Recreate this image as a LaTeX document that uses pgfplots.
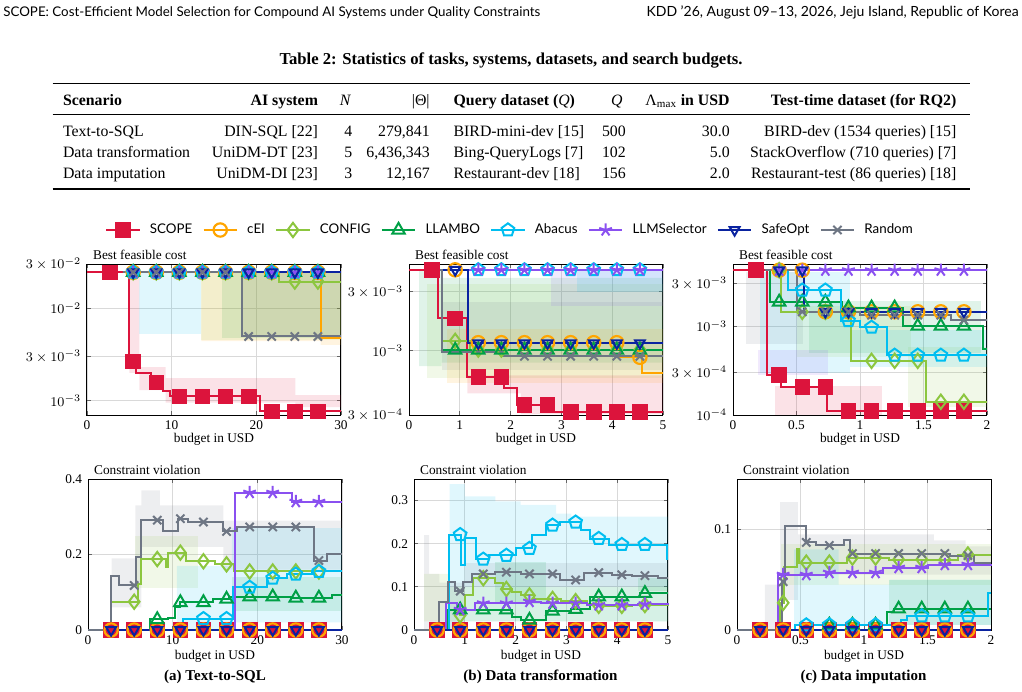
\documentclass[border=0pt]{standalone}
\usepackage{fontspec}
\setmainfont{Liberation Serif}
\newfontfamily\sansf{Lato}
\usepackage{pgfplots}
\pgfplotsset{compat=1.18}

\definecolor{cSCOPE}{RGB}{220,20,60}
\definecolor{cCEI}{RGB}{255,165,0}
\definecolor{cCONFIG}{RGB}{140,198,63}
\definecolor{cLLAMBO}{RGB}{0,160,70}
\definecolor{cABACUS}{RGB}{0,190,240}
\definecolor{cLLMSEL}{RGB}{138,80,240}
\definecolor{cSAFE}{RGB}{10,35,160}
\definecolor{cRAND}{RGB}{110,118,132}

\newcommand\tk{\fontsize{8}{9.6}\selectfont}
\newcommand\tb{\fontsize{9.5}{11.4}\selectfont}

\pgfplotsset{
  lSCOPE/.style={color=cSCOPE, line width=1.2pt, mark=square*, mark size=4.4pt, mark options={solid, fill=cSCOPE, line width=0.5pt}},
  lCEI/.style={color=cCEI, line width=1.2pt, mark=o, mark size=4pt, mark options={solid, line width=1.3pt}},
  lCONFIG/.style={color=cCONFIG, line width=1.2pt, mark=diamond, mark size=4.3pt, mark options={solid, line width=1.2pt}},
  lLLAMBO/.style={color=cLLAMBO, line width=1.2pt, mark=triangle, mark size=4.3pt, mark options={solid, line width=1.2pt}},
  lABACUS/.style={color=cABACUS, line width=1.2pt, mark=pentagon, mark size=4pt, mark options={solid, line width=1.2pt}},
  lLLMSEL/.style={color=cLLMSEL, line width=1.2pt, mark=star, mark size=4pt, mark options={solid, line width=1.2pt}},
  lSAFE/.style={color=cSAFE, line width=1.2pt, mark=triangle, mark size=3.4pt, mark options={solid, rotate=180, line width=1.2pt}},
  lRAND/.style={color=cRAND, line width=1.2pt, mark=x, mark size=3.5pt, mark options={solid, line width=1.2pt}},
  band/.style={draw=none, fill opacity=0.12, forget plot},
  panel/.style={
    scale only axis, width=152.4pt, height=90.6pt, anchor=north west, clip=false,
    xmin=0,
    grid=major, major grid style={line width=0.5pt, draw=black!15},
    axis line style={line width=0.6pt},
    tick style={black!60, line width=0.5pt}, major tick length=2.5pt,
    tick label style={font=\tk},
    label style={font=\tk},
    xlabel={budget in USD},
    title style={font=\tk, at={(axis description cs:0,1)}, anchor=base west, xshift=3.5pt, yshift=-3pt, inner sep=0pt},
    /pgf/number format/assume math mode=true,
  },
  toprow/.style={xlabel style={at={(axis description cs:0.5,0)}, anchor=base, yshift=-16.6pt, inner sep=0pt}},
  botrow/.style={xlabel style={at={(axis description cs:0.5,0)}, anchor=base, yshift=-17.4pt, inner sep=0pt}},
}

% step line through the change points, marks at the evaluation budgets
\newcommand{\curve}[3]{%
  \addplot[#1, const plot, mark=none] coordinates {#2};
  \addplot[#1, only marks] coordinates {#3};}

\begin{document}
\begin{tikzpicture}
\begin{scope}[x=0.6pt, y=-0.6pt]
  \path[use as bounding box] (0,0) rectangle (1022,691);
  % running head
  \node[anchor=base west, inner sep=0pt, font=\sansf\fontsize{8}{9.6}\selectfont] at (3,16)
    {SCOPE: Cost-Efficient Model Selection for Compound AI Systems under Quality Constraints};
  \node[anchor=base east, inner sep=0pt, font=\sansf\fontsize{8.4}{10}\selectfont] at (1019,16)
    {KDD ’26, August 09–13, 2026, Jeju Island, Republic of Korea};
  % table
  \node[anchor=base, inner sep=0pt, font=\bfseries\fontsize{10}{12}\selectfont] at (511,64)
    {Table 2: Statistics of tasks, systems, datasets, and search budgets.};
  \draw[line width=0.8pt] (52.7,83.3) -- (970,83.3);
  \draw[line width=0.45pt] (52.7,114.3) -- (970,114.3);
  \draw[line width=0.8pt] (52.7,189) -- (970,189);
  \tikzset{tw/.style={anchor=base west, inner sep=0pt, font=\tb},
           te/.style={anchor=base east, inner sep=0pt, font=\tb},
           tc/.style={anchor=base, inner sep=0pt, font=\tb}}
  \node[tw] at (62.7,105.5) {\bfseries Scenario};
  \node[te] at (318.3,105.5) {\bfseries AI system};
  \node[tc] at (345.5,105.5) {\textit{N}};
  \node[te] at (430,105.5) {|Θ|};
  \node[tw] at (453.3,105.5) {\bfseries Query dataset (\textit{\mdseries Q})};
  \node[te] at (623,105.5) {\textit{Q}};
  \node[te] at (730,105.5) {Λ\textsubscript{max} \bfseries in USD};
  \node[te] at (956.7,105.5) {\bfseries Test-time dataset (for RQ2)};
  % rows
  \node[tw] at (62.7,136) {Text-to-SQL};
  \node[te] at (318.3,136) {DIN-SQL [22]};
  \node[tc] at (348.3,136) {4};
  \node[te] at (430,136) {279,841};
  \node[tw] at (453.3,136) {BIRD-mini-dev [15]};
  \node[tw] at (601.7,136) {500};
  \node[te] at (730,136) {30.0};
  \node[te] at (956.7,136) {BIRD-dev (1534 queries) [15]};
  \node[tw] at (62.7,157.5) {Data transformation};
  \node[te] at (318.3,157.5) {UniDM-DT [23]};
  \node[tc] at (348.3,157.5) {5};
  \node[te] at (430,157.5) {6,436,343};
  \node[tw] at (453.3,157.5) {Bing-QueryLogs [7]};
  \node[tw] at (601.7,157.5) {102};
  \node[te] at (730,157.5) {5.0};
  \node[te] at (956.7,157.5) {StackOverflow (710 queries) [7]};
  \node[tw] at (62.7,178.5) {Data imputation};
  \node[te] at (318.3,178.5) {UniDM-DI [23]};
  \node[tc] at (348.3,178.5) {3};
  \node[te] at (430,178.5) {12,167};
  \node[tw] at (453.3,178.5) {Restaurant-dev [18]};
  \node[tw] at (601.7,178.5) {156};
  \node[te] at (730,178.5) {2.0};
  \node[te] at (956.7,178.5) {Restaurant-test (86 queries) [18]};
  % sub-captions
  \node[anchor=base, inner sep=0pt, font=\bfseries\fontsize{9}{11}\selectfont] at (215,680.5) {(a) Text-to-SQL};
  \node[anchor=base, inner sep=0pt, font=\bfseries\fontsize{9}{11}\selectfont] at (540.5,680.5) {(b) Data transformation};
  \node[anchor=base, inner sep=0pt, font=\bfseries\fontsize{9}{11}\selectfont] at (863.5,680.5) {(c) Data imputation};
  % panel anchors
  \coordinate (PA) at (87,264);
  \coordinate (PB) at (409,264);
  \coordinate (PC) at (733,264);
  \coordinate (QA) at (88,479);
  \coordinate (QB) at (414,479);
  \coordinate (QC) at (737,479);
  \coordinate (LEG) at (509,230);
\end{scope}

% ---------- shared legend ----------
\begin{axis}[at={(LEG)}, anchor=center, hide axis, scale only axis, width=20pt, height=10pt,
  xmin=0, xmax=1, ymin=0, ymax=1, legend columns=8,
  legend style={at={(0.5,0.5)}, anchor=center, draw=none, fill=none,
    font=\sansf\fontsize{8}{9.6}\selectfont, nodes={inner xsep=0pt},
    /tikz/every odd column/.append style={column sep=5.6pt},
    /tikz/every even column/.append style={column sep=6.2pt}},
  legend image code/.code={\draw[mark repeat=2, mark phase=2, #1] plot coordinates {(0pt,0pt) (10pt,0pt) (20pt,0pt)};}]
\addlegendimage{lSCOPE}\addlegendentry{SCOPE}
\addlegendimage{lCEI}\addlegendentry{cEI}
\addlegendimage{lCONFIG}\addlegendentry{CONFIG}
\addlegendimage{lLLAMBO}\addlegendentry{LLAMBO}
\addlegendimage{lABACUS}\addlegendentry{Abacus}
\addlegendimage{lLLMSEL}\addlegendentry{LLMSelector}
\addlegendimage{lSAFE}\addlegendentry{SafeOpt}
\addlegendimage{lRAND}\addlegendentry{Random}
\end{axis}

% ---------- (a) Text-to-SQL: best feasible cost ----------
\begin{axis}[panel, toprow, at={(PA)}, title={Best feasible cost}, xmax=30, xtick={0,10,20,30},
  ymode=log, ymin=7e-4, ymax=3e-2, ytick={1e-3,3e-3,1e-2,3e-2},
  yticklabels={$10^{-3}$,$3\times10^{-3}$,$10^{-2}$,$3\times10^{-2}$}]
\addplot[band, fill=cABACUS] coordinates {(6.2,0.0244)(13.5,0.0244)(13.5,0.0052)(6.2,0.0052)};
\addplot[band, fill=cCONFIG] coordinates {(13.5,0.0244)(30,0.0244)(30,0.0045)(13.5,0.0045)};
\addplot[band, fill=cLLAMBO] coordinates {(16,0.0244)(30,0.0244)(30,0.0048)(16,0.0048)};
\addplot[band, fill=cRAND] coordinates {(18.3,0.0244)(30,0.0244)(30,0.005)(18.3,0.005)};
\addplot[band, fill=cCEI] coordinates {(13.5,0.0244)(30,0.0244)(30,0.0040)(27.6,0.0040)(27.6,0.0044)(13.5,0.0044)};
\addplot[band, fill=cSCOPE] coordinates {(5,0.0244)(6.2,0.0244)(6.2,0.0023)(9.3,0.0023)(9.3,0.00175)(24.6,0.00175)(24.6,0.00115)(30,0.00115)(30,0.00085)(24.6,0.00085)(24.6,0.00095)(9.3,0.00095)(9.3,0.0013)(6.2,0.0013)(6.2,0.002)(5,0.002)};
\curve{lSCOPE}{(0,0.0244)(5,0.00265)(5.8,0.00199)(7.6,0.00157)(9.0,0.00126)(9.8,0.00111)(20.4,0.000767)(30,0.000767)}
  {(2.727,0.0244)(5.455,0.00265)(8.182,0.00157)(10.909,0.00111)(13.636,0.00111)(16.364,0.00111)(19.091,0.00111)(21.818,0.000767)(24.545,0.000767)(27.273,0.000767)}
\curve{lCEI}{(4.2,0.0244)(27.6,0.0047)(30,0.0047)}
  {(5.455,0.0244)(8.182,0.0244)(10.909,0.0244)(13.636,0.0244)(16.364,0.0244)(19.091,0.0244)(21.818,0.0244)(24.545,0.0244)(27.273,0.0244)}
\curve{lCONFIG}{(4.2,0.0244)(22.7,0.0194)(30,0.0194)}
  {(5.455,0.0244)(8.182,0.0244)(10.909,0.0244)(13.636,0.0244)(16.364,0.0244)(19.091,0.0244)(21.818,0.0244)(24.545,0.0194)(27.273,0.0194)}
\curve{lLLAMBO}{(4.2,0.0244)(30,0.0244)}
  {(5.455,0.0244)(8.182,0.0244)(10.909,0.0244)(13.636,0.0244)(16.364,0.0244)(19.091,0.0244)(21.818,0.0244)(24.545,0.0244)(27.273,0.0244)}
\curve{lABACUS}{(4.2,0.0244)(30,0.0244)}
  {(5.455,0.0244)(8.182,0.0244)(10.909,0.0244)(13.636,0.0244)(16.364,0.0244)(19.091,0.0244)(21.818,0.0244)(24.545,0.0244)(27.273,0.0244)}
\curve{lLLMSEL}{(4.2,0.0244)(30,0.0244)}
  {(5.455,0.0244)(8.182,0.0244)(10.909,0.0244)(13.636,0.0244)(16.364,0.0244)(19.091,0.0244)(21.818,0.0244)(24.545,0.0244)(27.273,0.0244)}
\curve{lSAFE}{(4.2,0.0244)(30,0.0244)}
  {(5.455,0.0244)(8.182,0.0244)(10.909,0.0244)(13.636,0.0244)(16.364,0.0244)(19.091,0.0244)(21.818,0.0244)(24.545,0.0244)(27.273,0.0244)}
\curve{lRAND}{(4.2,0.0244)(18.3,0.00494)(30,0.00494)}
  {(5.455,0.0244)(8.182,0.0244)(10.909,0.0244)(13.636,0.0244)(16.364,0.0244)(19.091,0.00494)(21.818,0.00494)(24.545,0.00494)(27.273,0.00494)}
\end{axis}

% ---------- (b) Data transformation: best feasible cost ----------
\begin{axis}[panel, toprow, at={(PB)}, title={Best feasible cost}, xmax=5, xtick={0,1,2,3,4,5},
  ymode=log, ymin=3e-4, ymax=5.05e-3, ytick={3e-4,1e-3,3e-3},
  yticklabels={$3\times10^{-4}$,$10^{-3}$,$3\times10^{-3}$}]
\addplot[band, fill=cLLAMBO] coordinates {(0.2,0.0045)(0.64,0.0045)(0.64,0.0039)(5,0.0039)(5,0.0008)(0.64,0.0008)(0.64,0.00075)(0.2,0.00075)};
\addplot[band, fill=cCONFIG] coordinates {(0.35,0.0035)(5,0.0035)(5,0.0006)(0.35,0.0006)};
\addplot[band, fill=cRAND] coordinates {(0.64,0.0025)(5,0.0025)(5,0.0007)(0.64,0.0007)};
\addplot[band, fill=cCEI] coordinates {(0.75,0.0015)(5,0.0015)(5,0.00055)(0.75,0.00055)};
\addplot[band, fill=cLLMSEL] coordinates {(2.8,0.0045)(5,0.0045)(5,0.0023)(2.8,0.0023)};
\addplot[band, fill=cABACUS] coordinates {(3.3,0.0045)(5,0.0045)(5,0.003)(3.3,0.003)};
\addplot[band, fill=cSCOPE] coordinates {(1.15,0.00063)(5,0.00063)(5,0.000305)(2.2,0.000305)(2.2,0.00045)(1.15,0.00045)};
\curve{lSCOPE}{(0,0.00453)(0.57,0.00183)(1.14,0.000615)(1.87,0.000494)(2.12,0.000362)(2.84,0.000319)(5,0.000319)}
  {(0.4545,0.00453)(0.9091,0.00183)(1.3636,0.000615)(1.8182,0.000615)(2.2727,0.000362)(2.7273,0.000362)(3.1818,0.000319)(3.6364,0.000319)(4.0909,0.000319)(4.5455,0.000319)}
\curve{lCEI}{(0.5,0.00453)(1.16,0.00116)(4.16,0.000883)(4.59,0.000663)(5,0.000663)}
  {(0.9091,0.00453)(1.3636,0.00116)(1.8182,0.00116)(2.2727,0.00116)(2.7273,0.00116)(3.1818,0.00116)(3.6364,0.00116)(4.0909,0.00116)(4.5455,0.000883)}
\curve{lCONFIG}{(0.5,0.00453)(0.64,0.0012)(1.2,0.00102)(5,0.00102)}
  {(0.9091,0.0012)(1.3636,0.00102)(1.8182,0.00102)(2.2727,0.00102)(2.7273,0.00102)(3.1818,0.00102)(3.6364,0.00102)(4.0909,0.00102)(4.5455,0.00102)}
\curve{lLLAMBO}{(0.5,0.00453)(0.64,0.00101)(5,0.00101)}
  {(0.9091,0.00101)(1.3636,0.00101)(1.8182,0.00101)(2.2727,0.00101)(2.7273,0.00101)(3.1818,0.00101)(3.6364,0.00101)(4.0909,0.00101)(4.5455,0.00101)}
\curve{lABACUS}{(0.95,0.00453)(5,0.00453)}
  {(1.3636,0.00453)(1.8182,0.00453)(2.2727,0.00453)(2.7273,0.00453)(3.1818,0.00453)(3.6364,0.00453)(4.0909,0.00453)(4.5455,0.00453)}
\curve{lLLMSEL}{(0.95,0.00453)(5,0.00453)}
  {(1.3636,0.00453)(1.8182,0.00453)(2.2727,0.00453)(2.7273,0.00453)(3.1818,0.00453)(3.6364,0.00453)(4.0909,0.00453)(4.5455,0.00453)}
\curve{lSAFE}{(0.5,0.00453)(1.16,0.00115)(5,0.00115)}
  {(0.9091,0.00453)(1.3636,0.00115)(1.8182,0.00115)(2.2727,0.00115)(2.7273,0.00115)(3.1818,0.00115)(3.6364,0.00115)(4.0909,0.00115)(4.5455,0.00115)}
\curve{lRAND}{(0.5,0.00453)(0.64,0.00098)(1.86,0.0009)(5,0.0009)}
  {(2.2727,0.0009)(2.7273,0.0009)(3.1818,0.0009)(3.6364,0.0009)(4.0909,0.0009)(4.5455,0.0009)}
\end{axis}

% ---------- (c) Data imputation: best feasible cost ----------
\begin{axis}[panel, toprow, at={(PC)}, title={Best feasible cost}, xmax=2, xtick={0,0.5,1,1.5,2},
  ymode=log, ymin=1e-4, ymax=5e-3, ytick={1e-4,3e-4,1e-3,3e-3},
  yticklabels={$10^{-4}$,$3\times10^{-4}$,$10^{-3}$,$3\times10^{-3}$}]
\addplot[band, fill=cRAND] coordinates {(0.1,0.0041)(0.55,0.0041)(0.55,0.00063)(0.1,0.00063)};
\addplot[band, fill=cABACUS] coordinates {(0.21,0.0041)(0.92,0.0041)(0.92,0.0003)(0.21,0.0003)};
\addplot[band, fill=cLLAMBO] coordinates {(0.6,0.0019)(1.95,0.0019)(1.95,0.0005)(0.6,0.0005)};
\addplot[band, fill=cCONFIG] coordinates {(0.5,0.0017)(1.4,0.0017)(1.4,0.00045)(0.5,0.00045)};
\addplot[band, fill=cCONFIG] coordinates {(1.38,0.00059)(2,0.00059)(2,0.000124)(1.38,0.000124)};
\addplot[band, fill=cLLMSEL] coordinates {(0.2,0.00054)(0.75,0.00054)(0.75,0.00028)(0.2,0.00028)};
\addplot[band, fill=cABACUS] coordinates {(0.92,0.0009)(2,0.0009)(2,0.00035)(0.92,0.00035)};
\addplot[band, fill=cSCOPE] coordinates {(0.33,0.00021)(1.17,0.00021)(1.17,0.0001)(0.33,0.0001)};
\curve{lSCOPE}{(0,0.00426)(0.27,0.000281)(0.38,0.000208)(0.74,0.000112)(2,0.000112)}
  {(0.1818,0.00426)(0.3636,0.000281)(0.5455,0.000208)(0.7273,0.000208)(0.9091,0.000112)(1.0909,0.000112)(1.2727,0.000112)(1.4545,0.000112)(1.6364,0.000112)(1.8182,0.000112)}
\curve{lCEI}{(0.25,0.00426)(0.56,0.00145)(2,0.00145)}
  {(0.3636,0.00426)(0.5455,0.00426)(0.7273,0.00145)(0.9091,0.00145)(1.0909,0.00145)(1.2727,0.00145)(1.4545,0.00145)(1.6364,0.00145)(1.8182,0.00145)}
\curve{lCONFIG}{(0.25,0.00426)(0.38,0.00145)(0.93,0.000407)(1.52,0.000141)(2,0.000141)}
  {(0.3636,0.00426)(0.5455,0.00145)(0.7273,0.00145)(0.9091,0.00145)(1.0909,0.000407)(1.2727,0.000407)(1.4545,0.000407)(1.6364,0.000141)(1.8182,0.000141)}
\curve{lLLAMBO}{(0.25,0.00426)(0.295,0.00187)(0.86,0.00161)(1.34,0.001)(1.97,0.00056)(2,0.00056)}
  {(0.3636,0.00187)(0.5455,0.00187)(0.7273,0.00187)(0.9091,0.00161)(1.0909,0.00161)(1.2727,0.00161)(1.4545,0.001)(1.6364,0.001)(1.8182,0.001)}
\curve{lABACUS}{(0.3,0.00426)(0.43,0.00254)(0.85,0.00115)(1.0,0.00097)(1.21,0.00047)(2,0.00047)}
  {(0.5455,0.00254)(0.7273,0.00254)(0.9091,0.00115)(1.0909,0.00097)(1.2727,0.00047)(1.4545,0.00047)(1.6364,0.00047)(1.8182,0.00047)}
\curve{lLLMSEL}{(0.3,0.00426)(2,0.00426)}
  {(0.3636,0.00426)(0.5455,0.00426)(0.7273,0.00426)(0.9091,0.00426)(1.0909,0.00426)(1.2727,0.00426)(1.4545,0.00426)(1.6364,0.00426)(1.8182,0.00426)}
\curve{lSAFE}{(0.25,0.00426)(0.56,0.00145)(2,0.00145)}
  {(0.3636,0.00426)(0.5455,0.00426)(0.7273,0.00145)(0.9091,0.00145)(1.0909,0.00145)(1.2727,0.00145)(1.4545,0.00145)(1.6364,0.00145)(1.8182,0.00145)}
\curve{lRAND}{(0.25,0.00426)(0.5,0.00145)(1.0,0.00133)(1.72,0.00117)(2,0.00117)}
  {(0.5455,0.00145)(0.7273,0.00145)(0.9091,0.00145)(1.0909,0.00133)(1.2727,0.00133)(1.4545,0.00133)(1.6364,0.00133)(1.8182,0.00117)}
\end{axis}

% ---------- (a) Text-to-SQL: constraint violation ----------
\begin{axis}[panel, botrow, at={(QA)}, title={Constraint violation}, xmax=30, xtick={0,10,20,30},
  ymin=0, ymax=0.4, ytick={0,0.2,0.4}]
\addplot[band, fill=cRAND] coordinates {(2.8,0.19)(5.6,0.19)(5.6,0.33)(6.3,0.33)(6.3,0.37)(8.5,0.37)(8.5,0.33)(16,0.33)(16,0.29)(30,0.29)(30,0.16)(16,0.16)(16,0.22)(6.3,0.22)(6.3,0.06)(2.8,0.06)};
\addplot[band, fill=cCONFIG] coordinates {(5.5,0.25)(13,0.25)(13,0.11)(5.5,0.11)};
\addplot[band, fill=cABACUS] coordinates {(10.5,0.17)(17,0.17)(17,0.27)(30,0.27)(30,0.02)(17,0.02)(17,0)(10.5,0)};
\addplot[band, fill=cLLAMBO] coordinates {(17,0.14)(30,0.14)(30,0.05)(17,0.05)};
\curve{lSCOPE}{(0,0)(30,0)}
  {(2.727,0)(5.455,0)(8.182,0)(10.909,0)(13.636,0)(16.364,0)(19.091,0)(21.818,0)(24.545,0)(27.273,0)}
\curve{lCEI}{(0,0)(30,0)}
  {(2.727,0)(5.455,0)(8.182,0)(10.909,0)(13.636,0)(16.364,0)(19.091,0)(21.818,0)(24.545,0)(27.273,0)}
\curve{lCONFIG}{(0,0)(2.76,0.075)(5.9,0.122)(6.3,0.188)(9.2,0.166)(9.4,0.205)(11.6,0.182)(15,0.174)(17.2,0.155)(30,0.155)}
  {(5.455,0.075)(8.182,0.188)(10.909,0.205)(13.636,0.182)(16.364,0.174)(19.091,0.155)(21.818,0.155)(24.545,0.155)(27.273,0.155)}
\curve{lLLAMBO}{(0,0)(7.3,0.028)(9.5,0.033)(10.3,0.06)(10.86,0.073)(14.8,0.082)(16.6,0.088)(24,0.085)(28.8,0.093)(30,0.093)}
  {(8.182,0.028)(10.909,0.073)(13.636,0.073)(16.364,0.082)(19.091,0.088)(21.818,0.088)(24.545,0.085)(27.273,0.085)}
\curve{lABACUS}{(0,0)(11.25,0.03)(17.1,0.113)(21.2,0.137)(23.5,0.148)(26.5,0.155)(30,0.155)}
  {(13.636,0.03)(16.364,0.03)(19.091,0.113)(21.818,0.137)(24.545,0.148)(27.273,0.155)}
\curve{lLLMSEL}{(0,0)(17.4,0.364)(24.1,0.34)(30,0.34)}
  {(19.091,0.364)(21.818,0.364)(24.545,0.34)(27.273,0.34)}
\curve{lSAFE}{(0,0)(30,0)}
  {(2.727,0)(5.455,0)(8.182,0)(10.909,0)(13.636,0)(16.364,0)(19.091,0)(21.818,0)(24.545,0)(27.273,0)}
\curve{lRAND}{(0,0)(2.76,0.144)(3.67,0.118)(5.65,0.193)(6.3,0.291)(8.9,0.261)(10.66,0.295)(11.8,0.286)(16,0.261)(17.6,0.273)(26.7,0.184)(28.2,0.201)(30,0.201)}
  {(5.455,0.118)(8.182,0.291)(10.909,0.295)(13.636,0.286)(16.364,0.261)(19.091,0.273)(21.818,0.273)(24.545,0.273)(27.273,0.184)}
\end{axis}

% ---------- (b) Data transformation: constraint violation ----------
\begin{axis}[panel, botrow, at={(QB)}, title={Constraint violation}, xmax=5, xtick={0,1,2,3,4,5},
  ymin=0, ymax=0.35, ytick={0,0.1,0.2,0.3}]
\addplot[band, fill=cABACUS] coordinates {(0.7,0.338)(1.0,0.338)(1.0,0.31)(1.6,0.31)(1.6,0.298)(2.1,0.298)(2.1,0.29)(2.8,0.29)(2.8,0.27)(3.1,0.27)(3.1,0.263)(5,0.263)(5,0.02)(1.0,0.02)(1.0,0)(0.7,0)};
\addplot[band, fill=cRAND] coordinates {(0.2,0.22)(0.3,0.22)(0.3,0.13)(0.5,0.13)(0.5,0.11)(1.0,0.11)(1.0,0)(0.2,0)};
\addplot[band, fill=cRAND] coordinates {(1.0,0.155)(5,0.155)(5,0.1)(1.0,0.1)};
\addplot[band, fill=cCONFIG] coordinates {(0.2,0.13)(0.7,0.13)(0.7,0.1)(5,0.1)(5,0.02)(0.2,0.02)};
\addplot[band, fill=cLLAMBO] coordinates {(1.6,0.157)(2.6,0.157)(2.6,0.06)(1.6,0.06)};
\addplot[band, fill=cLLAMBO] coordinates {(4.4,0.12)(5,0.12)(5,0.09)(4.4,0.09)};
\curve{lSCOPE}{(0,0)(5,0)}
  {(0.4545,0)(0.9091,0)(1.3636,0)(1.8182,0)(2.2727,0)(2.7273,0)(3.1818,0)(3.6364,0)(4.0909,0)(4.5455,0)}
\curve{lCEI}{(0,0)(5,0)}
  {(0.4545,0)(0.9091,0)(1.3636,0)(1.8182,0)(2.2727,0)(2.7273,0)(3.1818,0)(3.6364,0)(4.0909,0)(4.5455,0)}
\curve{lCONFIG}{(0,0)(0.66,0.047)(0.9,0.034)(1.0,0.081)(1.17,0.12)(1.6,0.11)(1.75,0.095)(1.93,0.087)(2.1,0.08)(2.36,0.072)(2.9,0.067)(3.4,0.06)(3.6,0.056)(4.3,0.058)(4.6,0.057)(5,0.055)}
  {(0.9091,0.034)(1.3636,0.12)(1.8182,0.095)(2.2727,0.08)(2.7273,0.072)(3.1818,0.067)(3.6364,0.056)(4.0909,0.056)(4.5455,0.058)}
\curve{lLLAMBO}{(0,0)(0.66,0.047)(1.93,0.029)(2.1,0.023)(2.6,0.044)(3.1,0.048)(3.47,0.077)(4.45,0.085)(5,0.085)}
  {(0.9091,0.047)(1.3636,0.047)(1.8182,0.047)(2.2727,0.023)(2.7273,0.044)(3.1818,0.048)(3.6364,0.077)(4.0909,0.077)(4.5455,0.085)}
\curve{lABACUS}{(0,0)(0.68,0.221)(0.92,0.15)(1.0,0.214)(1.22,0.164)(1.47,0.173)(2.0,0.189)(2.32,0.22)(2.59,0.243)(2.88,0.25)(3.28,0.231)(3.47,0.212)(3.84,0.198)(4.98,0.165)(5,0.165)}
  {(0.9091,0.221)(1.3636,0.164)(1.8182,0.173)(2.2727,0.189)(2.7273,0.243)(3.1818,0.25)(3.6364,0.212)(4.0909,0.198)(4.5455,0.198)}
\curve{lLLMSEL}{(0,0)(0.63,0.062)(0.85,0.047)(1.2,0.062)(2.2,0.066)(2.5,0.062)(3.4,0.058)(4.4,0.06)(5,0.062)}
  {(0.9091,0.047)(1.3636,0.062)(1.8182,0.062)(2.2727,0.066)(2.7273,0.062)(3.1818,0.062)(3.6364,0.058)(4.0909,0.058)(4.5455,0.06)}
\curve{lSAFE}{(0,0)(5,0)}
  {(0.4545,0)(0.9091,0)(1.3636,0)(1.8182,0)(2.2727,0)(2.7273,0)(3.1818,0)(3.6364,0)(4.0909,0)(4.5455,0)}
\curve{lRAND}{(0,0)(0.49,0.064)(0.66,0.111)(0.81,0.09)(0.97,0.111)(1.14,0.13)(1.6,0.134)(2.1,0.13)(2.88,0.116)(3.34,0.133)(3.9,0.128)(4.3,0.126)(4.8,0.12)(5,0.12)}
  {(0.9091,0.09)(1.3636,0.13)(1.8182,0.134)(2.2727,0.13)(2.7273,0.13)(3.1818,0.116)(3.6364,0.133)(4.0909,0.128)(4.5455,0.126)}
\end{axis}

% ---------- (c) Data imputation: constraint violation ----------
\begin{axis}[panel, botrow, at={(QC)}, title={Constraint violation}, xmax=2, xtick={0,0.5,1,1.5,2},
  ymin=0, ymax=0.15, ytick={0,0.1}]
\addplot[band, fill=cRAND] coordinates {(0.22,0.045)(0.34,0.045)(0.34,0.127)(0.48,0.127)(0.48,0.095)(1.55,0.095)(1.55,0.089)(1.8,0.089)(1.8,0.083)(2,0.083)(2,0.055)(0.48,0.055)(0.48,0.03)(0.34,0.03)(0.34,0)(0.22,0)};
\addplot[band, fill=cCONFIG] coordinates {(0.35,0.085)(2,0.085)(2,0.045)(0.35,0.045)};
\addplot[band, fill=cABACUS] coordinates {(0.45,0.08)(0.8,0.08)(0.8,0.045)(1.2,0.045)(1.2,0.05)(2,0.05)(2,0.005)(0.45,0.005)};
\addplot[band, fill=cLLAMBO] coordinates {(1.2,0.05)(2,0.05)(2,0.005)(1.2,0.005)};
\curve{lSCOPE}{(0,0)(2,0)}
  {(0.1818,0)(0.3636,0)(0.5455,0)(0.7273,0)(0.9091,0)(1.0909,0)(1.2727,0)(1.4545,0)(1.6364,0)(1.8182,0)}
\curve{lCEI}{(0,0)(2,0)}
  {(0.1818,0)(0.3636,0)(0.5455,0)(0.7273,0)(0.9091,0)(1.0909,0)(1.2727,0)(1.4545,0)(1.6364,0)(1.8182,0)}
\curve{lCONFIG}{(0,0)(0.34,0.027)(0.37,0.063)(0.47,0.08)(0.49,0.067)(0.87,0.072)(1.2,0.07)(1.74,0.075)(2,0.075)}
  {(0.3636,0.027)(0.5455,0.067)(0.7273,0.067)(0.9091,0.072)(1.0909,0.072)(1.2727,0.07)(1.4545,0.07)(1.6364,0.07)(1.8182,0.075)}
\curve{lLLAMBO}{(0,0)(0.68,0.005)(1.18,0.018)(1.24,0.021)(2,0.021)}
  {(0.7273,0.005)(0.9091,0.005)(1.0909,0.005)(1.2727,0.021)(1.4545,0.021)(1.6364,0.021)(1.8182,0.021)}
\curve{lABACUS}{(0,0)(0.46,0.005)(1.29,0.01)(1.34,0.014)(1.98,0.037)(2,0.037)}
  {(0.5455,0.005)(0.7273,0.005)(0.9091,0.005)(1.0909,0.005)(1.4545,0.014)(1.6364,0.014)(1.8182,0.014)}
\curve{lLLMSEL}{(0,0)(0.32,0.055)(0.7,0.057)(1.15,0.062)(1.5,0.065)(2,0.064)}
  {(0.3636,0.055)(0.5455,0.055)(0.7273,0.057)(0.9091,0.057)(1.0909,0.057)(1.2727,0.062)(1.4545,0.062)(1.6364,0.065)(1.8182,0.065)}
\curve{lSAFE}{(0,0)(2,0)}
  {(0.1818,0)(0.3636,0)(0.5455,0)(0.7273,0)(0.9091,0)(1.0909,0)(1.2727,0)(1.4545,0)(1.6364,0)(1.8182,0)}
\curve{lRAND}{(0,0)(0.355,0.048)(0.375,0.103)(0.54,0.087)(0.62,0.084)(0.84,0.089)(0.89,0.076)(1.68,0.074)(1.87,0.067)(2,0.067)}
  {(0.3636,0.048)(0.5455,0.087)(0.7273,0.084)(0.9091,0.076)(1.0909,0.076)(1.2727,0.076)(1.4545,0.076)(1.6364,0.076)(1.8182,0.074)}
\end{axis}
\end{tikzpicture}
\end{document}
